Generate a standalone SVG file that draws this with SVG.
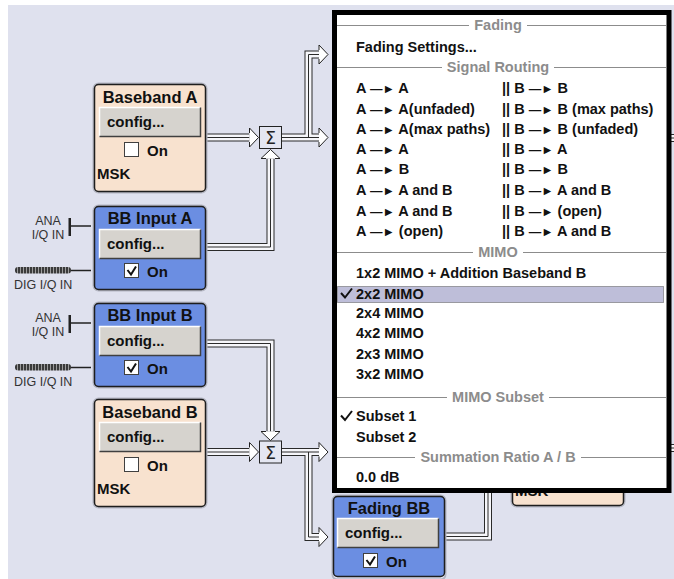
<svg xmlns="http://www.w3.org/2000/svg" xmlns:xlink="http://www.w3.org/1999/xlink" width="674" height="579" viewBox="0 0 674 579">
<style>
text{font-family:"Liberation Sans",Arial,sans-serif;fill:#111}
.ttl{font-size:16.5px;font-weight:bold;text-anchor:middle}
.btn{font-size:15px;font-weight:bold}
.lbl{font-size:15px;font-weight:bold}
.io{font-size:12.5px;fill:#333}
.mi{font-size:14.5px;font-weight:bold}
.hd{font-size:14.5px;font-weight:bold;fill:#8c8c8c;text-anchor:middle}
.ar{font-size:12.5px}
.sig{font-family:"DejaVu Sans",sans-serif;font-size:17px;text-anchor:middle;fill:#222}
.shadow{fill:none;stroke:#b4b6c2;stroke-width:2}
.peach{fill:#f8e2cf;stroke:#1e1e1e;stroke-width:1.5}
.blue{fill:#6b8ee2;stroke:#1e1e1e;stroke-width:1.5}
.bface{fill:#d6d3ce}
.bhi{fill:none;stroke:#fff;stroke-width:1.5}
.blo{fill:none;stroke:#404040;stroke-width:1.5}
.chk{fill:#fff;stroke:#404040;stroke-width:1}
.tick{fill:none;stroke:#111;stroke-width:2}
.w-outer{fill:none;stroke:#2a2a2a;stroke-width:8;stroke-linejoin:miter}
.w-inner{fill:none;stroke:#f6f6fa;stroke-width:6;stroke-linejoin:miter}
.w-core{fill:none;stroke:#2a2a2a;stroke-width:1;stroke-linejoin:miter}
.sep{stroke:#8c8c8c;stroke-width:1}
</style>
<defs>
<pattern id="hatch" width="3" height="10" patternUnits="userSpaceOnUse">
<rect width="3" height="10" fill="#3a3a3a"/><rect x="2" width="1" height="10" fill="#9c9c9c"/>
</pattern>
<path id="ah" d="M-9,-4.5 V-9.5 L0,0 L-9,9.5 V4.5" fill="#fff" stroke="#222" stroke-width="1"/>
<path id="p1" d="M206,137.5 H249.5"/>
<path id="p2" d="M206,247 H270.5 V158.5"/>
<path id="p3" d="M282,137.5 H319.5"/>
<path id="p4" d="M308.5,137.5 V54.5 H319.5"/>
<path id="p5" d="M206,343.5 H270.5 V431.5"/>
<path id="p6" d="M206,452 H249.5"/>
<path id="p7" d="M282,452 H319.5"/>
<path id="p8" d="M308.5,452 V537 H319.5"/>
<path id="p9" d="M446,536.5 H488 V480"/>
<path id="p10" d="M655,138 H676"/>
<path id="p11" d="M655,448 H676"/>
</defs>

<rect width="674" height="579" fill="#fff"/>
<rect x="8" y="5" width="666" height="574" fill="#dfe1ee"/>

<g id="connectors">
<g class="w-outer"><use xlink:href="#p1"/><use xlink:href="#p2"/><use xlink:href="#p3"/><use xlink:href="#p4"/><use xlink:href="#p5"/><use xlink:href="#p6"/><use xlink:href="#p7"/><use xlink:href="#p8"/><use xlink:href="#p9"/><use xlink:href="#p10"/><use xlink:href="#p11"/></g>
<g class="w-inner"><use xlink:href="#p1"/><use xlink:href="#p2"/><use xlink:href="#p3"/><use xlink:href="#p4"/><use xlink:href="#p5"/><use xlink:href="#p6"/><use xlink:href="#p7"/><use xlink:href="#p8"/><use xlink:href="#p9"/><use xlink:href="#p10"/><use xlink:href="#p11"/></g>
<g class="w-core"><use xlink:href="#p1"/><use xlink:href="#p2"/><use xlink:href="#p3"/><use xlink:href="#p4"/><use xlink:href="#p5"/><use xlink:href="#p6"/><use xlink:href="#p7"/><use xlink:href="#p8"/><use xlink:href="#p9"/><use xlink:href="#p10"/><use xlink:href="#p11"/></g>
<use xlink:href="#ah" transform="translate(258.5,137.5)"/>
<use xlink:href="#ah" transform="translate(270.5,149.5) rotate(-90)"/>
<use xlink:href="#ah" transform="translate(328,137.5)"/>
<use xlink:href="#ah" transform="translate(328,54.5)"/>
<use xlink:href="#ah" transform="translate(270.5,440.5) rotate(90)"/>
<use xlink:href="#ah" transform="translate(258.5,452)"/>
<use xlink:href="#ah" transform="translate(328,452)"/>
<use xlink:href="#ah" transform="translate(328,537)"/>
<g id="plugsA">
<rect x="68.5" y="218" width="2.5" height="18" fill="#222"/>
<line x1="71" y1="226" x2="91" y2="226" stroke="#222" stroke-width="1.5"/>
<rect x="15" y="267" width="56" height="6.5" rx="3" fill="url(#hatch)"/>
<line x1="71" y1="270.5" x2="91" y2="270.5" stroke="#222" stroke-width="1.5"/>
</g>
<g id="plugsB" transform="translate(0,97)">
<rect x="68.5" y="218" width="2.5" height="18" fill="#222"/>
<line x1="71" y1="226" x2="91" y2="226" stroke="#222" stroke-width="1.5"/>
<rect x="15" y="267" width="56" height="6.5" rx="3" fill="url(#hatch)"/>
<line x1="71" y1="270.5" x2="91" y2="270.5" stroke="#222" stroke-width="1.5"/>
</g>
</g>

<g id="io-labels">
<text class="io" x="48" y="225" text-anchor="middle">ANA</text>
<text class="io" x="48" y="239" text-anchor="middle">I/Q IN</text>
<text class="io" x="14" y="289">DIG I/Q IN</text>
<text class="io" x="48" y="322" text-anchor="middle">ANA</text>
<text class="io" x="48" y="336" text-anchor="middle">I/Q IN</text>
<text class="io" x="14" y="386">DIG I/Q IN</text>
</g>

<g id="sumA">
<rect x="259.5" y="126.5" width="22" height="22" fill="#e4e6f1" stroke="#222" stroke-width="1"/>
<text class="sig" x="270.5" y="144">Σ</text>
</g>
<g id="sumB">
<rect x="259.5" y="441" width="22" height="22" fill="#e4e6f1" stroke="#222" stroke-width="1"/>
<text class="sig" x="270.5" y="458.5">Σ</text>
</g>

<g id="basebandA" transform="translate(94,84)">
<rect class="shadow" x="-0.5" y="-0.5" width="113" height="109" rx="5"/>
<rect class="peach" x="0.5" y="0.5" width="111" height="107" rx="4"/>
<text class="ttl" x="56" y="19">Baseband A</text>
<rect class="bface" x="5" y="23" width="102" height="30"/>
<path class="bhi" d="M5.5,52.5 V23.5 H106.5"/>
<path class="blo" d="M5.5,52.5 H106.5 V23.5"/>
<text class="btn" x="13" y="43">config...</text>
<rect class="chk" x="30.5" y="58.5" width="14" height="14"/>
<text class="lbl" x="53" y="72">On</text>
<text class="lbl" x="3" y="95">MSK</text>
</g>

<g id="bbInputA" transform="translate(94,206)">
<rect class="shadow" x="-0.5" y="-0.5" width="113" height="85" rx="5"/>
<rect class="blue" x="0.5" y="0.5" width="111" height="83" rx="4"/>
<text class="ttl" x="56" y="18">BB Input A</text>
<rect class="bface" x="5" y="23" width="102" height="30"/>
<path class="bhi" d="M5.5,52.5 V23.5 H106.5"/>
<path class="blo" d="M5.5,52.5 H106.5 V23.5"/>
<text class="btn" x="13" y="43">config...</text>
<rect class="chk" x="30.5" y="57.5" width="14" height="14"/>
<path class="tick" d="M33.5,64 L37,68.5 L42,60.5"/>
<text class="lbl" x="53" y="70.5">On</text>
</g>

<g id="bbInputB" transform="translate(94,303)">
<rect class="shadow" x="-0.5" y="-0.5" width="113" height="85" rx="5"/>
<rect class="blue" x="0.5" y="0.5" width="111" height="83" rx="4"/>
<text class="ttl" x="56" y="18">BB Input B</text>
<rect class="bface" x="5" y="23" width="102" height="30"/>
<path class="bhi" d="M5.5,52.5 V23.5 H106.5"/>
<path class="blo" d="M5.5,52.5 H106.5 V23.5"/>
<text class="btn" x="13" y="43">config...</text>
<rect class="chk" x="30.5" y="57.5" width="14" height="14"/>
<path class="tick" d="M33.5,64 L37,68.5 L42,60.5"/>
<text class="lbl" x="53" y="70.5">On</text>
</g>

<g id="basebandB" transform="translate(94,399)">
<rect class="shadow" x="-0.5" y="-0.5" width="113" height="109" rx="5"/>
<rect class="peach" x="0.5" y="0.5" width="111" height="107" rx="4"/>
<text class="ttl" x="56" y="19">Baseband B</text>
<rect class="bface" x="5" y="23" width="102" height="30"/>
<path class="bhi" d="M5.5,52.5 V23.5 H106.5"/>
<path class="blo" d="M5.5,52.5 H106.5 V23.5"/>
<text class="btn" x="13" y="43">config...</text>
<rect class="chk" x="30.5" y="58.5" width="14" height="14"/>
<text class="lbl" x="53" y="72">On</text>
<text class="lbl" x="3" y="95">MSK</text>
</g>

<g id="fadingBB" transform="translate(333,496)">
<rect class="shadow" x="-0.5" y="-0.5" width="113" height="84" rx="5"/>
<rect class="blue" x="0.5" y="0.5" width="111" height="80" rx="4"/>
<text class="ttl" x="56" y="18">Fading BB</text>
<rect class="bface" x="4" y="22" width="102" height="30"/>
<path class="bhi" d="M4.5,51.5 V22.5 H105.5"/>
<path class="blo" d="M4.5,51.5 H105.5 V22.5"/>
<text class="btn" x="12" y="42">config...</text>
<rect class="chk" x="30.5" y="57.5" width="14" height="14"/>
<path class="tick" d="M33.5,64 L37,68.5 L42,60.5"/>
<text class="lbl" x="53" y="70.5">On</text>
</g>

<g id="hiddenBaseband">
<rect class="shadow" x="511.5" y="399.5" width="113" height="107" rx="5"/>
<rect class="peach" x="512.5" y="400.5" width="111" height="105" rx="4"/>
<text class="lbl" x="515" y="496">MSK</text>
</g>

<g id="menu">
<rect x="334.5" y="12.5" width="334.5" height="478" fill="#fff" stroke="#000" stroke-width="5"/>
<line class="sep" x1="337" y1="25.5" x2="469" y2="25.5"/><line class="sep" x1="527" y1="25.5" x2="666" y2="25.5"/>
<text class="hd" x="498" y="30">Fading</text>
<text class="mi" x="356" y="51.5">Fading Settings...</text>
<line class="sep" x1="337" y1="67.5" x2="442" y2="67.5"/><line class="sep" x1="554" y1="67.5" x2="666" y2="67.5"/>
<text class="hd" x="498" y="72">Signal Routing</text>

<text class="mi" x="356" y="93">A <tspan class="ar">—►</tspan> A</text>
<text class="mi" x="502" y="93">|| B <tspan class="ar">—►</tspan> B</text>
<text class="mi" x="356" y="113.5">A <tspan class="ar">—►</tspan> A(unfaded)</text>
<text class="mi" x="502" y="113.5">|| B <tspan class="ar">—►</tspan> B (max paths)</text>
<text class="mi" x="356" y="133.5">A <tspan class="ar">—►</tspan> A(max paths)</text>
<text class="mi" x="502" y="133.5">|| B <tspan class="ar">—►</tspan> B (unfaded)</text>
<text class="mi" x="356" y="153.5">A <tspan class="ar">—►</tspan> A</text>
<text class="mi" x="502" y="153.5">|| B <tspan class="ar">—►</tspan> A</text>
<text class="mi" x="356" y="174">A <tspan class="ar">—►</tspan> B</text>
<text class="mi" x="502" y="174">|| B <tspan class="ar">—►</tspan> B</text>
<text class="mi" x="356" y="195">A <tspan class="ar">—►</tspan> A and B</text>
<text class="mi" x="502" y="195">|| B <tspan class="ar">—►</tspan> A and B</text>
<text class="mi" x="356" y="215.5">A <tspan class="ar">—►</tspan> A and B</text>
<text class="mi" x="502" y="215.5">|| B <tspan class="ar">—►</tspan> (open)</text>
<text class="mi" x="356" y="236">A <tspan class="ar">—►</tspan> (open)</text>
<text class="mi" x="502" y="236">|| B <tspan class="ar">—►</tspan> A and B</text>

<line class="sep" x1="337" y1="252.5" x2="473" y2="252.5"/><line class="sep" x1="523" y1="252.5" x2="666" y2="252.5"/>
<text class="hd" x="498" y="257">MIMO</text>
<text class="mi" x="356" y="277.5">1x2 MIMO + Addition Baseband B</text>
<rect x="337.5" y="286.5" width="326" height="16" fill="#bebed9" stroke="#555" stroke-width="1" stroke-dasharray="1,1"/>
<path class="tick" d="M341,293 L345,297.5 L352,288.5"/>
<text class="mi" x="356" y="298.5">2x2 MIMO</text>
<text class="mi" x="356" y="318">2x4 MIMO</text>
<text class="mi" x="356" y="338">4x2 MIMO</text>
<text class="mi" x="356" y="358.5">2x3 MIMO</text>
<text class="mi" x="356" y="379">3x2 MIMO</text>

<line class="sep" x1="337" y1="397.5" x2="447" y2="397.5"/><line class="sep" x1="549" y1="397.5" x2="666" y2="397.5"/>
<text class="hd" x="498" y="402">MIMO Subset</text>
<path class="tick" d="M341,415.5 L345,420 L352,411"/>
<text class="mi" x="356" y="421">Subset 1</text>
<text class="mi" x="356" y="442">Subset 2</text>

<line class="sep" x1="337" y1="457.5" x2="415" y2="457.5"/><line class="sep" x1="581" y1="457.5" x2="666" y2="457.5"/>
<text class="hd" x="498" y="462">Summation Ratio A / B</text>
<text class="mi" x="356" y="482">0.0 dB</text>
</g>
</svg>
